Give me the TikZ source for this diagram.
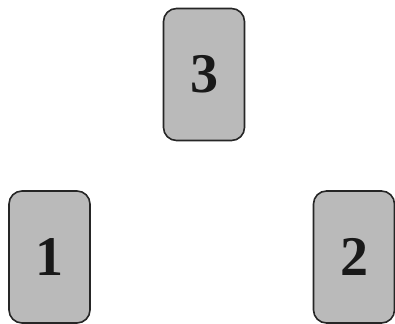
\documentclass[tikz,border=0pt]{standalone}
\usepackage{fontspec}
\setmainfont{Liberation Serif}
\begin{document}
\begin{tikzpicture}[x=1pt,y=1pt,
  card/.style={draw=black!85,line width=1.6pt,fill=black!27,rounded corners=13pt,
    minimum width=81pt,minimum height=132pt,inner sep=0pt,
    font=\fontsize{56}{56}\selectfont\bfseries,text=black!90}]
\useasboundingbox (0,0) rectangle (395,323);
\node[card] (c3) at (204,248.5) {3};
\node[card] (c1) at (49.5,66) {1};
\node[card] (c2) at (354,66) {2};
\end{tikzpicture}
\end{document}
